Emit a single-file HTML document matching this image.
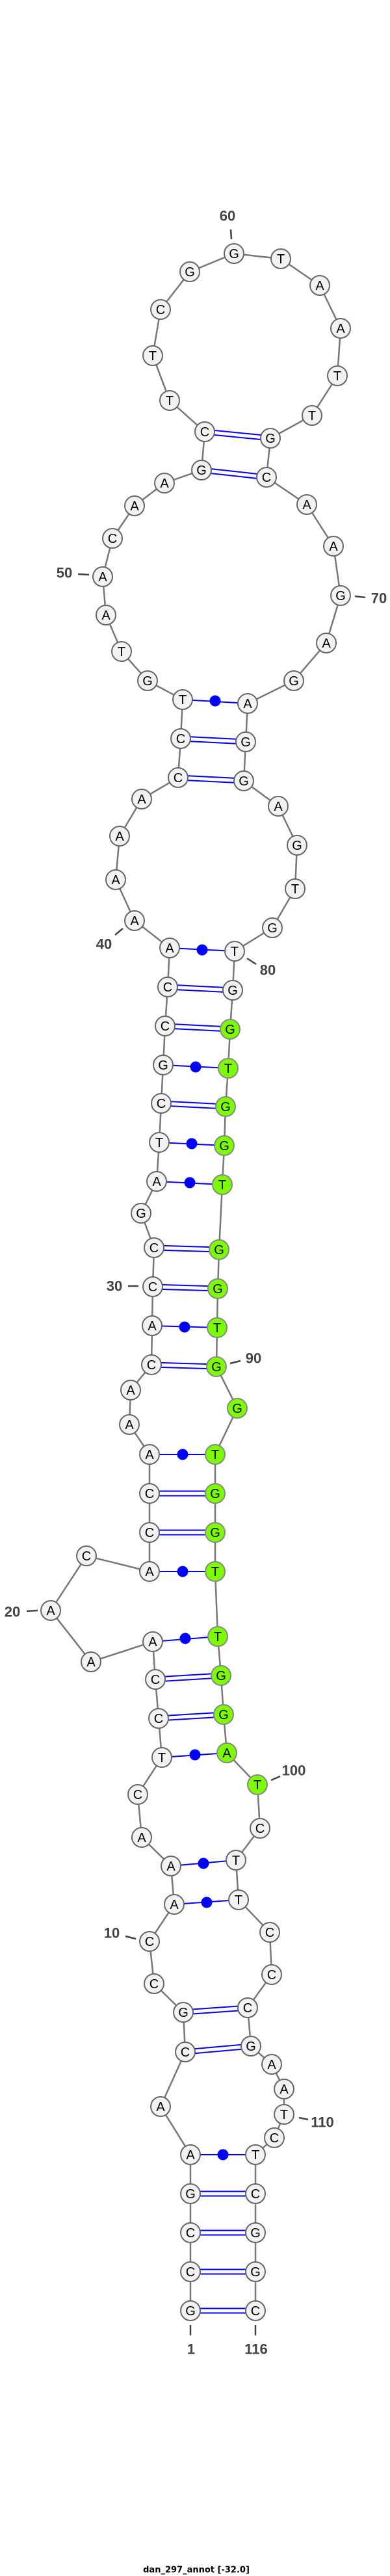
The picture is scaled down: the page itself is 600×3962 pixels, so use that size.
<!DOCTYPE html>
<html><head><meta charset="utf-8"><style>
html,body{margin:0;padding:0;background:#fff;width:600px;height:3962px;overflow:hidden}
svg{display:block}
.n{fill:#f2f2f2;stroke:#666;stroke-width:2}
.g{fill:#7cfc00;stroke:#888;stroke-width:2}
.t{font-family:"Liberation Sans",sans-serif;font-size:20px;text-anchor:middle;dominant-baseline:central;fill:#000}
.l{font-family:"Liberation Sans",sans-serif;font-size:22px;font-weight:bold;fill:#444;text-anchor:middle;dominant-baseline:central}
.p{stroke:#00f;stroke-width:2}
.k{stroke:#444;stroke-width:2.5}
</style></head><body>
<svg width="600" height="3962" viewBox="0 0 600 3962" xmlns="http://www.w3.org/2000/svg">
<polyline fill="none" stroke="#777" stroke-width="2.5" points="293,3554 293,3494 293,3434 293,3374 293,3314 247,3240 285,3156 282,3095 237,3051 230,2986 268,2929 263,2870 218,2826 212,2760 249,2703 244,2643 239,2583 235,2525 140,2556 78,2477 133,2393 230,2417 230,2357 230,2297 230,2237 199,2191 201,2138 233,2099 234,2039 235,1979 237,1919 217,1866 241,1817 245,1757 248,1697 251,1638 254,1578 258,1518 261,1458 207,1416 178,1353 184,1286 218,1229 274,1196 278,1136 281,1076 227,1047 187,1002 163,946 158,887 173,828 207,778 253,743 310,723 315,664 261,616 235,547 247,476 292,418 360,390 432,398 492,439 524,505 519,578 480,639 416,674 410,734 472,776 513,840 524,916 502,989 452,1047 381,1082 378,1141 375,1201 428,1240 457,1300 454,1367 419,1427 361,1463 358,1523 354,1583 351,1643 347,1702 345,1762 342,1822 337,1922 335,1982 334,2042 333,2102 365,2166 331,2237 331,2297 331,2357 331,2417 335,2517 340,2577 344,2637 349,2696 396,2745 400,2812 363,2861 367,2922 415,2972 418,3037 381,3088 386,3147 418,3175 437,3213 437,3252 422,3288 393,3314 393,3374 393,3434 393,3494 393,3554"/>
<g class="p">
<!-- double pairs -->
<line x1="293" y1="3550.5" x2="393" y2="3550.5"/><line x1="293" y1="3557.5" x2="393" y2="3557.5"/>
<line x1="293" y1="3490.5" x2="393" y2="3490.5"/><line x1="293" y1="3497.5" x2="393" y2="3497.5"/>
<line x1="293" y1="3430.5" x2="393" y2="3430.5"/><line x1="293" y1="3437.5" x2="393" y2="3437.5"/>
<line x1="293" y1="3370.5" x2="393" y2="3370.5"/><line x1="293" y1="3377.5" x2="393" y2="3377.5"/>
<line x1="285" y1="3152.5" x2="386" y2="3143.5"/><line x1="285" y1="3159.5" x2="386" y2="3150.5"/>
<line x1="282" y1="3091.5" x2="381" y2="3084.5"/><line x1="282" y1="3098.5" x2="381" y2="3091.5"/>
<line x1="244" y1="2639.5" x2="344" y2="2633.5"/><line x1="244" y1="2646.5" x2="344" y2="2640.5"/>
<line x1="239" y1="2579.5" x2="340" y2="2573.5"/><line x1="239" y1="2586.5" x2="340" y2="2580.5"/>
<line x1="230" y1="2353.5" x2="331" y2="2353.5"/><line x1="230" y1="2360.5" x2="331" y2="2360.5"/>
<line x1="230" y1="2293.5" x2="331" y2="2293.5"/><line x1="230" y1="2300.5" x2="331" y2="2300.5"/>
<line x1="233" y1="2095.5" x2="333" y2="2098.5"/><line x1="233" y1="2102.5" x2="333" y2="2105.5"/>
<line x1="235" y1="1975.5" x2="335" y2="1978.5"/><line x1="235" y1="1982.5" x2="335" y2="1985.5"/>
<line x1="237" y1="1915.5" x2="337" y2="1918.5"/><line x1="237" y1="1922.5" x2="337" y2="1925.5"/>
<line x1="248" y1="1693.5" x2="347" y2="1698.5"/><line x1="248" y1="1700.5" x2="347" y2="1705.5"/>
<line x1="254" y1="1574.5" x2="354" y2="1579.5"/><line x1="254" y1="1581.5" x2="354" y2="1586.5"/>
<line x1="258" y1="1514.5" x2="358" y2="1519.5"/><line x1="258" y1="1521.5" x2="358" y2="1526.5"/>
<line x1="274" y1="1192.5" x2="375" y2="1197.5"/><line x1="274" y1="1199.5" x2="375" y2="1204.5"/>
<line x1="278" y1="1132.5" x2="378" y2="1137.5"/><line x1="278" y1="1139.5" x2="378" y2="1144.5"/>
<line x1="310" y1="719.5" x2="410" y2="730.5"/><line x1="310" y1="726.5" x2="410" y2="737.5"/>
<line x1="315" y1="660.5" x2="416" y2="670.5"/><line x1="315" y1="667.5" x2="416" y2="677.5"/>
<!-- single pairs -->
<line x1="293" y1="3314" x2="393" y2="3314"/>
<line x1="268" y1="2929" x2="367" y2="2922"/>
<line x1="263" y1="2870" x2="363" y2="2861"/>
<line x1="249" y1="2703" x2="349" y2="2696"/>
<line x1="235" y1="2525" x2="335" y2="2517"/>
<line x1="230" y1="2417" x2="331" y2="2417"/>
<line x1="230" y1="2237" x2="331" y2="2237"/>
<line x1="234" y1="2039" x2="334" y2="2042"/>
<line x1="241" y1="1817" x2="342" y2="1822"/>
<line x1="245" y1="1757" x2="345" y2="1762"/>
<line x1="251" y1="1638" x2="351" y2="1643"/>
<line x1="261" y1="1458" x2="361" y2="1463"/>
<line x1="281" y1="1076" x2="381" y2="1082"/>
</g>
<g fill="#00f">
<circle cx="343" cy="3314" r="8.5"/><circle cx="318" cy="2926" r="8.5"/><circle cx="313" cy="2866" r="8.5"/>
<circle cx="300" cy="2699" r="8.5"/><circle cx="285" cy="2520" r="8.5"/><circle cx="281" cy="2417" r="8.5"/>
<circle cx="281" cy="2237" r="8.5"/><circle cx="284" cy="2041" r="8.5"/><circle cx="292" cy="1819" r="8.5"/>
<circle cx="295" cy="1759" r="8.5"/><circle cx="301" cy="1641" r="8.5"/><circle cx="311" cy="1461" r="8.5"/>
<circle cx="331" cy="1078" r="8.5"/>
</g>
<g class="k">
<line x1="355" y1="353" x2="356" y2="368"/>
<line x1="120" y1="883" x2="137" y2="884"/>
<line x1="546" y1="917" x2="562" y2="919"/>
<line x1="177" y1="1438" x2="189" y2="1428"/>
<line x1="380" y1="1474" x2="394" y2="1483"/>
<line x1="197" y1="1978" x2="213" y2="1978"/>
<line x1="354" y1="2097" x2="370" y2="2093"/>
<line x1="41" y1="2478" x2="58" y2="2477"/>
<line x1="417" y1="2738" x2="431" y2="2732"/>
<line x1="193" y1="2978" x2="209" y2="2982"/>
<line x1="460" y1="3257" x2="474" y2="3260"/>
<line x1="293" y1="3576" x2="293" y2="3592"/>
<line x1="393" y1="3576" x2="393" y2="3592"/>
</g>
<g class="l">
<text x="350" y="332">60</text><text x="99" y="881">50</text><text x="583" y="920">70</text>
<text x="160" y="1452">40</text><text x="412" y="1492">80</text><text x="176" y="1978">30</text>
<text x="390" y="2089">90</text><text x="19" y="2479">20</text><text x="452" y="2723">100</text>
<text x="172" y="2973">10</text><text x="496" y="3264">110</text><text x="294" y="3613">1</text><text x="394" y="3613">116</text>
</g>
<g>
<circle class="n" cx="293" cy="3554" r="15"/><circle class="n" cx="293" cy="3494" r="15"/><circle class="n" cx="293" cy="3434" r="15"/><circle class="n" cx="293" cy="3374" r="15"/><circle class="n" cx="293" cy="3314" r="15"/>
<circle class="n" cx="247" cy="3240" r="15"/><circle class="n" cx="285" cy="3156" r="15"/><circle class="n" cx="282" cy="3095" r="15"/><circle class="n" cx="237" cy="3051" r="15"/><circle class="n" cx="230" cy="2986" r="15"/>
<circle class="n" cx="268" cy="2929" r="15"/><circle class="n" cx="263" cy="2870" r="15"/><circle class="n" cx="218" cy="2826" r="15"/><circle class="n" cx="212" cy="2760" r="15"/><circle class="n" cx="249" cy="2703" r="15"/>
<circle class="n" cx="244" cy="2643" r="15"/><circle class="n" cx="239" cy="2583" r="15"/><circle class="n" cx="235" cy="2525" r="15"/><circle class="n" cx="140" cy="2556" r="15"/><circle class="n" cx="78" cy="2477" r="15"/>
<circle class="n" cx="133" cy="2393" r="15"/><circle class="n" cx="230" cy="2417" r="15"/><circle class="n" cx="230" cy="2357" r="15"/><circle class="n" cx="230" cy="2297" r="15"/><circle class="n" cx="230" cy="2237" r="15"/>
<circle class="n" cx="199" cy="2191" r="15"/><circle class="n" cx="201" cy="2138" r="15"/><circle class="n" cx="233" cy="2099" r="15"/><circle class="n" cx="234" cy="2039" r="15"/><circle class="n" cx="235" cy="1979" r="15"/>
<circle class="n" cx="237" cy="1919" r="15"/><circle class="n" cx="217" cy="1866" r="15"/><circle class="n" cx="241" cy="1817" r="15"/><circle class="n" cx="245" cy="1757" r="15"/><circle class="n" cx="248" cy="1697" r="15"/>
<circle class="n" cx="251" cy="1638" r="15"/><circle class="n" cx="254" cy="1578" r="15"/><circle class="n" cx="258" cy="1518" r="15"/><circle class="n" cx="261" cy="1458" r="15"/><circle class="n" cx="207" cy="1416" r="15"/>
<circle class="n" cx="178" cy="1353" r="15"/><circle class="n" cx="184" cy="1286" r="15"/><circle class="n" cx="218" cy="1229" r="15"/><circle class="n" cx="274" cy="1196" r="15"/><circle class="n" cx="278" cy="1136" r="15"/>
<circle class="n" cx="281" cy="1076" r="15"/><circle class="n" cx="227" cy="1047" r="15"/><circle class="n" cx="187" cy="1002" r="15"/><circle class="n" cx="163" cy="946" r="15"/><circle class="n" cx="158" cy="887" r="15"/>
<circle class="n" cx="173" cy="828" r="15"/><circle class="n" cx="207" cy="778" r="15"/><circle class="n" cx="253" cy="743" r="15"/><circle class="n" cx="310" cy="723" r="15"/><circle class="n" cx="315" cy="664" r="15"/>
<circle class="n" cx="261" cy="616" r="15"/><circle class="n" cx="235" cy="547" r="15"/><circle class="n" cx="247" cy="476" r="15"/><circle class="n" cx="292" cy="418" r="15"/><circle class="n" cx="360" cy="390" r="15"/>
<circle class="n" cx="432" cy="398" r="15"/><circle class="n" cx="492" cy="439" r="15"/><circle class="n" cx="524" cy="505" r="15"/><circle class="n" cx="519" cy="578" r="15"/><circle class="n" cx="480" cy="639" r="15"/>
<circle class="n" cx="416" cy="674" r="15"/><circle class="n" cx="410" cy="734" r="15"/><circle class="n" cx="472" cy="776" r="15"/><circle class="n" cx="513" cy="840" r="15"/><circle class="n" cx="524" cy="916" r="15"/>
<circle class="n" cx="502" cy="989" r="15"/><circle class="n" cx="452" cy="1047" r="15"/><circle class="n" cx="381" cy="1082" r="15"/><circle class="n" cx="378" cy="1141" r="15"/><circle class="n" cx="375" cy="1201" r="15"/>
<circle class="n" cx="428" cy="1240" r="15"/><circle class="n" cx="457" cy="1300" r="15"/><circle class="n" cx="454" cy="1367" r="15"/><circle class="n" cx="419" cy="1427" r="15"/><circle class="n" cx="361" cy="1463" r="15"/>
<circle class="n" cx="358" cy="1523" r="15"/><circle class="g" cx="354" cy="1583" r="15"/><circle class="g" cx="351" cy="1643" r="15"/><circle class="g" cx="347" cy="1702" r="15"/><circle class="g" cx="345" cy="1762" r="15"/>
<circle class="g" cx="342" cy="1822" r="15"/><circle class="g" cx="337" cy="1922" r="15"/><circle class="g" cx="335" cy="1982" r="15"/><circle class="g" cx="334" cy="2042" r="15"/><circle class="g" cx="333" cy="2102" r="15"/>
<circle class="g" cx="365" cy="2166" r="15"/><circle class="g" cx="331" cy="2237" r="15"/><circle class="g" cx="331" cy="2297" r="15"/><circle class="g" cx="331" cy="2357" r="15"/><circle class="g" cx="331" cy="2417" r="15"/>
<circle class="g" cx="335" cy="2517" r="15"/><circle class="g" cx="340" cy="2577" r="15"/><circle class="g" cx="344" cy="2637" r="15"/><circle class="g" cx="349" cy="2696" r="15"/><circle class="g" cx="396" cy="2745" r="15"/>
<circle class="n" cx="400" cy="2812" r="15"/><circle class="n" cx="363" cy="2861" r="15"/><circle class="n" cx="367" cy="2922" r="15"/><circle class="n" cx="415" cy="2972" r="15"/><circle class="n" cx="418" cy="3037" r="15"/>
<circle class="n" cx="381" cy="3088" r="15"/><circle class="n" cx="386" cy="3147" r="15"/><circle class="n" cx="418" cy="3175" r="15"/><circle class="n" cx="437" cy="3213" r="15"/><circle class="n" cx="437" cy="3252" r="15"/>
<circle class="n" cx="422" cy="3288" r="15"/><circle class="n" cx="393" cy="3314" r="15"/><circle class="n" cx="393" cy="3374" r="15"/><circle class="n" cx="393" cy="3434" r="15"/><circle class="n" cx="393" cy="3494" r="15"/>
<circle class="n" cx="393" cy="3554" r="15"/>
</g>
<g class="t">
<text x="293" y="3555">G</text><text x="293" y="3495">C</text><text x="293" y="3435">C</text><text x="293" y="3375">G</text><text x="293" y="3315">A</text>
<text x="247" y="3241">A</text><text x="285" y="3157">C</text><text x="282" y="3096">G</text><text x="237" y="3052">C</text><text x="230" y="2987">C</text>
<text x="268" y="2930">A</text><text x="263" y="2871">A</text><text x="218" y="2827">A</text><text x="212" y="2761">C</text><text x="249" y="2704">T</text>
<text x="244" y="2644">C</text><text x="239" y="2584">C</text><text x="235" y="2526">A</text><text x="140" y="2557">A</text><text x="78" y="2478">A</text>
<text x="133" y="2394">C</text><text x="230" y="2418">A</text><text x="230" y="2358">C</text><text x="230" y="2298">C</text><text x="230" y="2238">A</text>
<text x="199" y="2192">A</text><text x="201" y="2139">A</text><text x="233" y="2100">C</text><text x="234" y="2040">A</text><text x="235" y="1980">C</text>
<text x="237" y="1920">C</text><text x="217" y="1867">G</text><text x="241" y="1818">A</text><text x="245" y="1758">T</text><text x="248" y="1698">C</text>
<text x="251" y="1639">G</text><text x="254" y="1579">C</text><text x="258" y="1519">C</text><text x="261" y="1459">A</text><text x="207" y="1417">A</text>
<text x="178" y="1354">A</text><text x="184" y="1287">A</text><text x="218" y="1230">A</text><text x="274" y="1197">C</text><text x="278" y="1137">C</text>
<text x="281" y="1077">T</text><text x="227" y="1048">G</text><text x="187" y="1003">T</text><text x="163" y="947">A</text><text x="158" y="888">A</text>
<text x="173" y="829">C</text><text x="207" y="779">A</text><text x="253" y="744">A</text><text x="310" y="724">G</text><text x="315" y="665">C</text>
<text x="261" y="617">T</text><text x="235" y="548">T</text><text x="247" y="477">C</text><text x="292" y="419">G</text><text x="360" y="391">G</text>
<text x="432" y="399">T</text><text x="492" y="440">A</text><text x="524" y="506">A</text><text x="519" y="579">T</text><text x="480" y="640">T</text>
<text x="416" y="675">G</text><text x="410" y="735">C</text><text x="472" y="777">A</text><text x="513" y="841">A</text><text x="524" y="917">G</text>
<text x="502" y="990">A</text><text x="452" y="1048">G</text><text x="381" y="1083">A</text><text x="378" y="1142">G</text><text x="375" y="1202">G</text>
<text x="428" y="1241">A</text><text x="457" y="1301">G</text><text x="454" y="1368">T</text><text x="419" y="1428">G</text><text x="361" y="1464">T</text>
<text x="358" y="1524">G</text><text x="354" y="1584">G</text><text x="351" y="1644">T</text><text x="347" y="1703">G</text><text x="345" y="1763">G</text>
<text x="342" y="1823">T</text><text x="337" y="1923">G</text><text x="335" y="1983">G</text><text x="334" y="2043">T</text><text x="333" y="2103">G</text>
<text x="365" y="2167">G</text><text x="331" y="2238">T</text><text x="331" y="2298">G</text><text x="331" y="2358">G</text><text x="331" y="2418">T</text>
<text x="335" y="2518">T</text><text x="340" y="2578">G</text><text x="344" y="2638">G</text><text x="349" y="2697">A</text><text x="396" y="2746">T</text>
<text x="400" y="2813">C</text><text x="363" y="2862">T</text><text x="367" y="2923">T</text><text x="415" y="2973">C</text><text x="418" y="3038">C</text>
<text x="381" y="3089">C</text><text x="386" y="3148">G</text><text x="418" y="3176">A</text><text x="437" y="3214">A</text><text x="437" y="3253">T</text>
<text x="422" y="3289">C</text><text x="393" y="3315">T</text><text x="393" y="3375">C</text><text x="393" y="3435">G</text><text x="393" y="3495">G</text>
<text x="393" y="3555">C</text>
</g>
<text x="302" y="3953" font-family="'DejaVu Sans','Liberation Sans',sans-serif" font-size="13" font-weight="bold" fill="#000" text-anchor="middle" dominant-baseline="central">dan_297_annot [-32.0]</text>
</svg>
</body></html>
